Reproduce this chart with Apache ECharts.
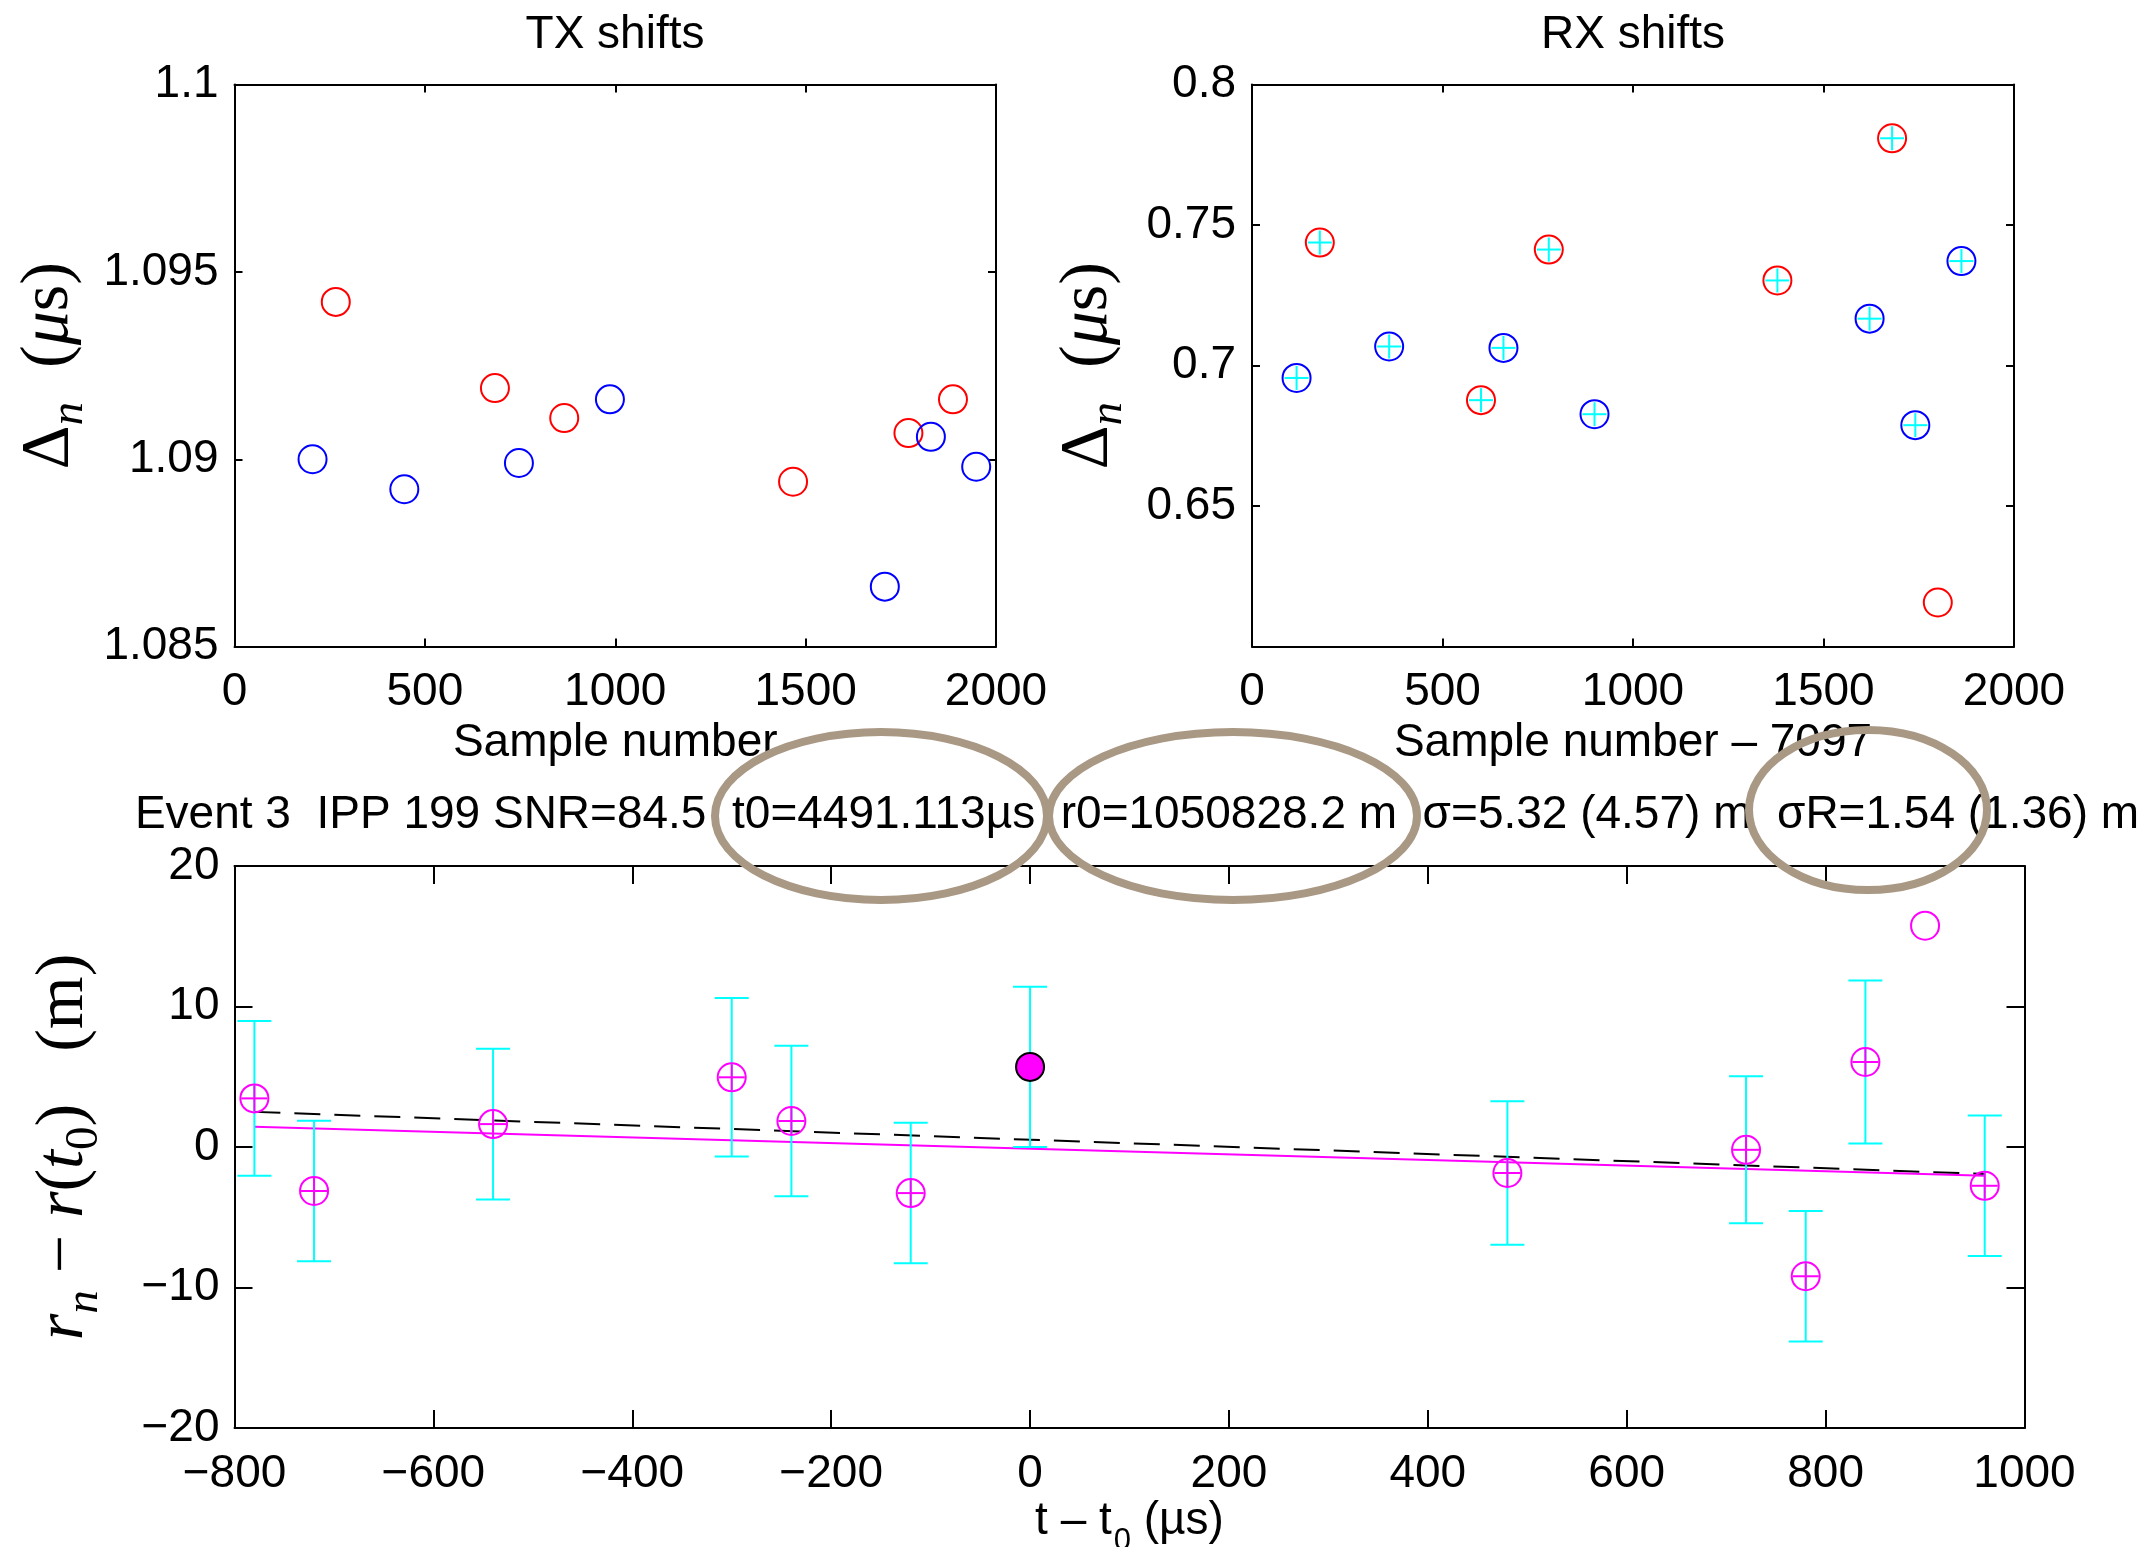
<!DOCTYPE html>
<html><head><meta charset="utf-8">
<script src="https://cdn.jsdelivr.net/npm/echarts@6/dist/echarts.min.js"></script>
<style>html,body{margin:0;padding:0;background:#fff}#c{width:2149px;height:1547px}</style>
</head><body><div id="c"></div>
<script>
// ---------- data ----------
const txXTicks = [0, 500, 1000, 1500, 2000];
const txYTicks = [1.085, 1.09, 1.095, 1.1];
const rxXTicks = [0, 500, 1000, 1500, 2000];
const rxYTicks = [0.6, 0.65, 0.7, 0.75, 0.8];
const resXTicks = [-800, -600, -400, -200, 0, 200, 400, 600, 800, 1000];
const resYTicks = [-20, -10, 0, 10, 20];

const txRedSample = [266, 684, 866, 1467, 1770, 1887];
const txRedShift  = [1.0942, 1.0919, 1.0911, 1.0894, 1.0907, 1.0916];
const txBlueSample = [205, 446, 747, 986, 1708, 1829, 1948];
const txBlueShift  = [1.0900, 1.0892, 1.0899, 1.0916, 1.0866, 1.0906, 1.0898];

const rxRedSample = [178, 601, 779, 1379, 1680, 1800];
const rxRedShift  = [0.7438, 0.6877, 0.7413, 0.7303, 0.7809, 0.6157];
const rxRedUsed   = [1, 1, 1, 1, 1, 0];
const rxBlueSample = [117, 360, 660, 899, 1621, 1741, 1862];
const rxBlueShift  = [0.6956, 0.7068, 0.7063, 0.6827, 0.7167, 0.6788, 0.7372];
const rxBlueUsed   = [1, 1, 1, 1, 1, 1, 1];

const resTime  = [-780, -720, -540, -300, -240, -120, 480, 720, 780, 840, 960];
const resRange = [3.46, -3.13, 1.63, 4.96, 1.85, -3.28, -1.85, -0.2, -9.2, 6.05, -2.76];
const resErr   = [5.5, 5.0, 5.36, 5.64, 5.36, 5.0, 5.1, 5.23, 4.65, 5.8, 5.0];
const refTime  = [0];
const refRange = [5.7];
const refErr   = [5.7];
const outTime  = [900];
const outRange = [15.75];
const fitTime   = [-780, 960];
const fitRange  = [1.45, -2.05];
const fit2Range = [2.5, -1.92];

const titleText = 'Event 3  IPP 199 SNR=84.5  t0=4491.113\u00b5s  r0=1050828.2 m  \u03c3=5.32 (4.57) m  \u03c3R=1.54 (1.36) m';

// ---------- helpers ----------
const SANS = 'Liberation Sans';
const SERIF = 'Liberation Serif';
const FS = 46;
const fmtNum = v => String(+(+v).toFixed(3)).replace('-', '\u2212');

function axisPair(kind, grid, ticks, tickLen, labelMargin, extra) {
  const min = ticks[0], max = ticks[ticks.length - 1];
  const interval = +(ticks[1] - ticks[0]).toFixed(6);
  const base = {
    type: 'value', gridIndex: grid, min, max, interval,
    splitLine: { show: false },
    axisLine: { show: true, onZero: false, lineStyle: { color: '#000', width: 2 } },
    axisTick: { show: true, inside: true, length: tickLen, lineStyle: { color: '#000', width: 2 } }
  };
  const main = Object.assign({}, base, {
    position: kind === 'x' ? 'bottom' : 'left',
    axisLabel: { show: true, margin: labelMargin, color: '#000', fontSize: FS, fontFamily: SANS, formatter: fmtNum }
  }, extra || {});
  const mirror = Object.assign({}, base, {
    position: kind === 'x' ? 'top' : 'right',
    axisLabel: { show: false }
  });
  return [main, mirror];
}

function markerSeries(xi, yi, data, o) {
  return {
    type: 'custom', xAxisIndex: xi, yAxisIndex: yi, data, clip: false, z: o.z || 5, silent: true,
    renderItem(params, api) {
      const p = api.coord([api.value(0), api.value(1)]);
      const ch = [{ type: 'circle', shape: { cx: p[0], cy: p[1], r: o.r },
        style: { fill: o.fill || 'none', stroke: o.stroke, lineWidth: o.lw } }];
      if (o.plus && api.value(2)) {
        const h = o.plusHalf;
        ch.push({ type: 'line', shape: { x1: p[0] - h, y1: p[1], x2: p[0] + h, y2: p[1] }, style: { stroke: o.plus, lineWidth: o.lw } });
        ch.push({ type: 'line', shape: { x1: p[0], y1: p[1] - h, x2: p[0], y2: p[1] + h }, style: { stroke: o.plus, lineWidth: o.lw } });
      }
      return { type: 'group', children: ch };
    }
  };
}

function errorSeries(xi, yi, data) {
  return {
    type: 'custom', xAxisIndex: xi, yAxisIndex: yi, data, clip: false, z: 3, silent: true,
    renderItem(params, api) {
      const lo = api.coord([api.value(0), api.value(1)]);
      const hi = api.coord([api.value(0), api.value(2)]);
      const c = 17, st = { stroke: '#00FFFF', lineWidth: 2 };
      return { type: 'group', children: [
        { type: 'line', shape: { x1: lo[0], y1: lo[1], x2: hi[0], y2: hi[1] }, style: st },
        { type: 'line', shape: { x1: lo[0] - c, y1: lo[1], x2: lo[0] + c, y2: lo[1] }, style: st },
        { type: 'line', shape: { x1: hi[0] - c, y1: hi[1], x2: hi[0] + c, y2: hi[1] }, style: st }
      ] };
    }
  };
}

const zip = (a, b, c) => a.map((v, i) => c ? [v, b[i], c[i]] : [v, b[i]]);

// ---------- axes ----------
const nameSans = { fontSize: FS, fontFamily: SANS, color: '#000', verticalAlign: 'middle' };
const xAxes = [
  ...axisPair('x', 0, txXTicks, 8, 23, { name: 'Sample number', nameLocation: 'middle', nameGap: 97, nameTextStyle: nameSans }),
  ...axisPair('x', 1, rxXTicks, 8, 23, { name: 'Sample number \u2013 7097', nameLocation: 'middle', nameGap: 97, nameTextStyle: nameSans }),
  ...axisPair('x', 2, resXTicks, 18, 23, { name: '{a|t \u2013 t}{b|0}{a| (\u00b5s)}', nameLocation: 'middle', nameGap: 81,
      nameTextStyle: { verticalAlign: 'middle', align: 'center',
        rich: { a: { fontSize: FS, fontFamily: SANS, color: '#000', verticalAlign: 'top', lineHeight: 48 },
                b: { fontSize: 31, fontFamily: SANS, color: '#000', verticalAlign: 'top', lineHeight: 33, padding: [28, 0, 0, 2] } } } })
];

const yRich = {
  d: { fontSize: 68, fontFamily: SERIF, color: '#000', verticalAlign: 'top', lineHeight: 72 },
  i: { fontSize: 68, fontFamily: SERIF, fontStyle: 'italic', color: '#000', verticalAlign: 'top', lineHeight: 72 },
  s: { fontSize: 47, fontFamily: SERIF, fontStyle: 'italic', color: '#000', verticalAlign: 'top', lineHeight: 50, padding: [31, 0, 0, 0] },
  u: { fontSize: 47, fontFamily: SERIF, color: '#000', verticalAlign: 'top', lineHeight: 50, padding: [31, 0, 0, 0] },
  g: { width: 34, lineHeight: 72, verticalAlign: 'top' },
  h: { width: 52, lineHeight: 72, verticalAlign: 'top' }
};
const yNameStyle = { verticalAlign: 'middle', align: 'center', rich: yRich };

const yAxes = [
  ...axisPair('y', 0, txYTicks, 8, 16, { name: '{d|\u0394}{s|n}{g|}{d|(}{i|\u03bc}{d|s)}', nameLocation: 'middle',
      nameGap: 183, nameRotate: 90, nameTextStyle: yNameStyle }),
  ...axisPair('y', 1, rxYTicks, 8, 16, { name: '{d|\u0394}{s|n}{g|}{d|(}{i|\u03bc}{d|s)}', nameLocation: 'middle',
      nameGap: 162, nameRotate: 90, nameTextStyle: yNameStyle }),
  ...axisPair('y', 2, resYTicks, 18, 15, { name: '{i|r}{s|n}{d| \u2212 }{i|r}{d|(}{i|t}{u|0}{d|)}{h|}{d|(m)}', nameLocation: 'middle',
      nameGap: 168, nameRotate: 90, nameTextStyle: yNameStyle })
];
yAxes[2].axisLabel.showMinLabel = false;

// ---------- series ----------
const series = [
  markerSeries(0, 0, zip(txRedSample, txRedShift), { r: 14, stroke: '#FF0000', lw: 2 }),
  markerSeries(0, 0, zip(txBlueSample, txBlueShift), { r: 14, stroke: '#0000FF', lw: 2 }),
  markerSeries(2, 2, zip(rxRedSample, rxRedShift, rxRedUsed), { r: 14, stroke: '#FF0000', lw: 2, plus: '#00FFFF', plusHalf: 12 }),
  markerSeries(2, 2, zip(rxBlueSample, rxBlueShift, rxBlueUsed), { r: 14, stroke: '#0000FF', lw: 2, plus: '#00FFFF', plusHalf: 12 }),
  { type: 'line', xAxisIndex: 4, yAxisIndex: 4, data: zip(fitTime, fit2Range), symbol: 'none', silent: true, z: 2,
    lineStyle: { color: '#000', width: 2, type: [26, 14] } },
  { type: 'line', xAxisIndex: 4, yAxisIndex: 4, data: zip(fitTime, fitRange), symbol: 'none', silent: true, z: 2,
    lineStyle: { color: '#FF00FF', width: 2 } },
  errorSeries(4, 4, resTime.map((t, i) => [t, resRange[i] - resErr[i], resRange[i] + resErr[i]])),
  errorSeries(4, 4, refTime.map((t, i) => [t, refRange[i] - refErr[i], refRange[i] + refErr[i]])),
  markerSeries(4, 4, resTime.map((t, i) => [t, resRange[i], 1]), { r: 14, stroke: '#FF00FF', lw: 2, plus: '#FF00FF', plusHalf: 13 }),
  markerSeries(4, 4, zip(refTime, refRange), { r: 14, stroke: '#000', fill: '#FF00FF', lw: 2 }),
  markerSeries(4, 4, zip(outTime, outRange), { r: 14, stroke: '#FF00FF', lw: 2 })
];

// ---------- annotations ----------
const ringColor = '#A89884';
const tStyle = (t) => ({ text: t, fontSize: FS, fontFamily: SANS, fill: '#000', align: 'center', verticalAlign: 'middle' });
const graphic = [
  { type: 'text', x: 615, y: 35, style: tStyle('TX shifts') },
  { type: 'text', x: 1633, y: 35, style: tStyle('RX shifts') },
  { type: 'text', x: 1137, y: 815, style: tStyle(titleText) },
  { type: 'ellipse', z: 100, shape: { cx: 881, cy: 816, rx: 166, ry: 84 }, style: { fill: 'none', stroke: ringColor, lineWidth: 8 } },
  { type: 'ellipse', z: 100, shape: { cx: 1233, cy: 816, rx: 184, ry: 84 }, style: { fill: 'none', stroke: ringColor, lineWidth: 8 } },
  { type: 'ellipse', z: 100, shape: { cx: 1868, cy: 810, rx: 119, ry: 80 }, style: { fill: 'none', stroke: ringColor, lineWidth: 8 } }
];

const chart = echarts.init(document.getElementById('c'), null, { renderer: 'canvas' });
chart.setOption({
  animation: false,
  backgroundColor: '#fff',
  grid: [
    { left: 234.5, top: 84.6, width: 761.5, height: 562, outerBoundsMode: 'none', containLabel: false },
    { left: 1252, top: 84.6, width: 762, height: 562, outerBoundsMode: 'none', containLabel: false },
    { left: 234.5, top: 866, width: 1790, height: 562, outerBoundsMode: 'none', containLabel: false }
  ],
  xAxis: xAxes,
  yAxis: yAxes,
  series,
  graphic
});
</script></body></html>
